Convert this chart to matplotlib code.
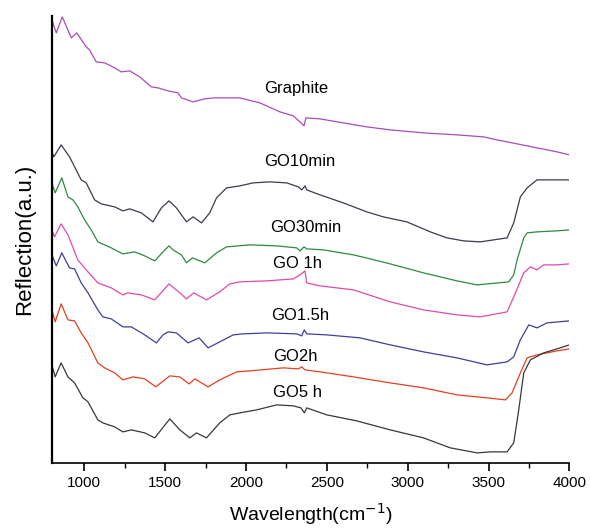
import numpy as np
import matplotlib.pyplot as plt
from matplotlib.ticker import MultipleLocator

plt.rcParams['font.family'] = ['Liberation Sans', 'DejaVu Sans']

# Reflection spectra (wavenumber in cm^-1, reflection in a.u., curves offset)
wn_graphite = [800, 827, 864, 920, 954, 1012, 1033, 1074, 1126, 1188, 1229, 1281, 1343, 1415,
               1456, 1518, 1580, 1601, 1673, 1745, 1807, 1880, 1962, 2086, 2210, 2293, 2334,
               2359, 2371, 2458, 2602, 2747, 2892, 3098, 3305, 3470, 3553, 3677, 3800, 3924, 4000]
r_graphite = [443, 430, 446, 425, 430, 416, 413, 401, 400, 395, 391, 392, 386, 376,
              375, 372, 370, 365, 361, 364, 365, 365, 365, 360, 351, 347, 341,
              337, 345, 344, 340, 336, 333, 330, 328, 326, 323, 319, 315, 311, 308]

wn_10min = [800, 812, 857, 909, 981, 1012, 1064, 1105, 1188, 1239, 1281, 1353, 1425, 1477,
            1524, 1570, 1632, 1673, 1725, 1776, 1818, 1880, 1962, 2045, 2148, 2252, 2324,
            2345, 2365, 2376, 2458, 2602, 2747, 2850, 2995, 3140, 3243, 3346, 3449, 3532,
            3615, 3656, 3697, 3739, 3800, 3883, 4000]
r_10min = [311, 306, 318, 306, 283, 280, 263, 259, 256, 252, 254, 250, 241, 255,
           262, 255, 241, 246, 240, 250, 265, 275, 277, 280, 281, 280, 276,
           273, 277, 273, 268, 260, 251, 246, 241, 231, 225, 222, 221, 223,
           225, 240, 266, 275, 283, 283, 283]

wn_30min = [800, 820, 861, 899, 930, 960, 1002, 1043, 1084, 1167, 1239, 1312, 1374, 1436,
            1487, 1524, 1549, 1601, 1632, 1669, 1745, 1818, 1880, 2024, 2190, 2314, 2334,
            2359, 2376, 2478, 2665, 2768, 2892, 3098, 3305, 3429, 3625, 3656, 3677, 3718,
            3739, 3800, 3924, 4000]
r_30min = [280, 270, 285, 266, 263, 256, 243, 233, 221, 215, 209, 211, 207, 202,
           211, 217, 213, 208, 200, 205, 200, 210, 216, 218, 217, 215, 212,
           216, 214, 213, 208, 204, 199, 190, 182, 178, 181, 188, 203, 225,
           230, 231, 232, 233]

wn_1h = [800, 816, 857, 899, 960, 1012, 1084, 1167, 1239, 1270, 1353, 1436, 1524, 1591,
         1632, 1677, 1756, 1838, 1900, 1962, 2128, 2293, 2334, 2365, 2376, 2458, 2665,
         2892, 3098, 3305, 3449, 3615, 3667, 3718, 3759, 3800, 3841, 3924, 4000]
r_1h = [233, 226, 239, 228, 203, 193, 180, 175, 168, 170, 168, 163, 179, 170,
        164, 170, 163, 171, 179, 181, 182, 184, 188, 192, 180, 177, 173,
        161, 153, 148, 146, 151, 170, 190, 196, 193, 198, 198, 199]

wn_15h = [800, 827, 861, 909, 940, 981, 1023, 1084, 1115, 1167, 1239, 1291, 1374, 1446,
          1487, 1518, 1570, 1642, 1710, 1766, 1838, 1921, 1983, 2128, 2314, 2345, 2361,
          2376, 2500, 2706, 2892, 3098, 3305, 3491, 3615, 3656, 3697, 3749, 3800, 3862, 4000]
r_15h = [208, 197, 210, 195, 194, 180, 170, 153, 146, 144, 136, 136, 128, 120,
         128, 131, 130, 120, 125, 115, 121, 128, 129, 130, 129, 127, 133,
         129, 128, 125, 118, 111, 105, 98, 101, 106, 123, 138, 135, 140, 142]

wn_2h = [800, 820, 857, 899, 940, 981, 1023, 1084, 1126, 1188, 1239, 1301, 1374, 1442,
         1529, 1591, 1648, 1684, 1766, 1838, 1942, 2024, 2231, 2324, 2345, 2365, 2458,
         2665, 2892, 3098, 3305, 3491, 3605, 3646, 3697, 3739, 3800, 3924, 4000]
r_2h = [153, 141, 159, 143, 142, 130, 120, 100, 95, 90, 83, 86, 84, 76,
        87, 86, 79, 84, 76, 83, 91, 92, 95, 94, 96, 93, 91,
        86, 80, 75, 68, 65, 63, 70, 90, 105, 108, 112, 114]

wn_5h = [800, 820, 857, 899, 940, 992, 1023, 1084, 1115, 1188, 1239, 1291, 1374, 1436,
         1529, 1591, 1653, 1694, 1756, 1838, 1900, 1962, 2066, 2190, 2293, 2340, 2361,
         2376, 2500, 2685, 2892, 3098, 3264, 3429, 3511, 3615, 3656, 3687, 3718, 3759,
         3841, 3924, 4000]
r_5h = [98, 86, 100, 86, 80, 65, 61, 43, 40, 36, 31, 33, 30, 25,
        44, 33, 25, 30, 25, 40, 48, 50, 53, 58, 57, 55, 50,
        55, 48, 42, 33, 25, 15, 10, 11, 11, 20, 53, 90, 103,
        110, 114, 118]

names = ['Graphite', 'GO10min', 'GO30min', 'GO 1h', 'GO1.5h', 'GO2h', 'GO5 h']
label_x = [2309, 2333, 2371, 2317, 2333, 2303, 2317]
label_y = [374, 301, 235, 199, 147, 106, 70]

series = [(wn_graphite, r_graphite, '#a84cba'),
          (wn_10min, r_10min, '#3b3b4c'),
          (wn_30min, r_30min, '#2f8a3f'),
          (wn_1h, r_1h, '#e04aac'),
          (wn_15h, r_15h, '#3f3f98'),
          (wn_2h, r_2h, '#e2401f'),
          (wn_5h, r_5h, '#383838')]

fig = plt.figure(figsize=(5.9, 5.29), dpi=100)
ax = fig.add_axes([0.088, 0.125, 0.877, 0.845])

for (x, y, c), name, tx, ty in zip(series, names, label_x, label_y):
    ax.plot(x, y, color=c, lw=0.9)
    ax.text(tx, ty, name, fontsize=12, ha='center', va='center')

ax.set_xlim(800, 4000)
ax.set_ylim(0, 447)
ax.xaxis.set_major_locator(MultipleLocator(500))
ax.xaxis.set_minor_locator(MultipleLocator(250))
ax.tick_params(axis='x', which='major', direction='out', length=6, width=1.2, labelsize=11)
ax.tick_params(axis='x', which='minor', direction='out', length=3.5, width=1.0)
ax.set_yticks([])

ax.spines['top'].set_visible(False)
ax.spines['right'].set_visible(False)
ax.spines['left'].set_linewidth(1.6)
ax.spines['bottom'].set_linewidth(1.2)

ax.set_xlabel('Wavelength(cm$^{-1}$)', fontsize=14, labelpad=8)
ax.set_ylabel('Reflection(a.u.)', fontsize=16, labelpad=12)

fig.savefig('out.png', dpi=100)
